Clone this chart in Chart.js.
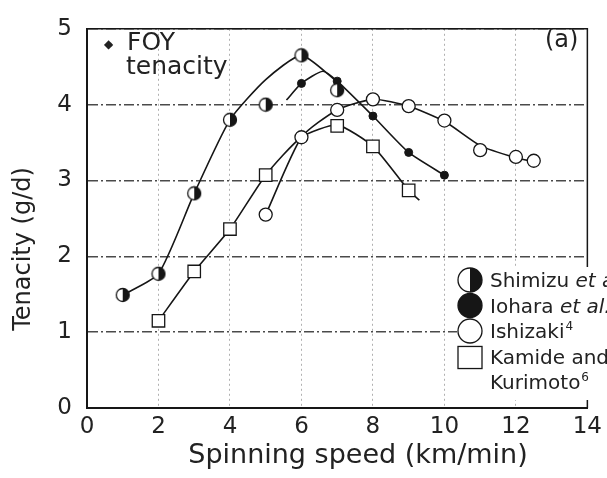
<!DOCTYPE html>
<html lang="en">
<head>
  <meta charset="UTF-8" />
  <title>FOY tenacity vs spinning speed</title>
  <script src="https://cdn.jsdelivr.net/npm/chart.js"></script>
  <style>
    body {
      margin: 0;
      background: #fff;
    }

    #wrap {
      width: 607px;
      height: 478px;
    }
  </style>
</head>
<body>
  <div id="wrap"><canvas id="chart" width="607" height="478"></canvas></div>

  <script>
    // tick labels
    const xTicks = [0, 2, 4, 6, 8, 10, 12, 14];
    const yTicks = [0, 1, 2, 3, 4, 5];

    // measured points (speed km/min, tenacity g/d)
    const shimizuSpeed = [1, 2, 3, 4, 5, 6, 7];
    const shimizuTenacity = [1.49, 1.77, 2.83, 3.8, 4.0, 4.65, 4.19];

    const ioharaSpeed = [6, 7, 8, 9, 10];
    const ioharaTenacity = [4.28, 4.31, 3.85, 3.37, 3.07];

    const ishizakiSpeed = [5, 6, 7, 8, 9, 10, 11, 12, 12.5];
    const ishizakiTenacity = [2.55, 3.57, 3.93, 4.07, 3.98, 3.79, 3.4, 3.31, 3.26];

    const kamideSpeed = [2, 3, 4, 5, 7, 8, 9];
    const kamideTenacity = [1.15, 1.8, 2.36, 3.07, 3.72, 3.45, 2.87];

    // hand drawn fit curves
    const shimizuCurveX = [1, 2, 3, 4, 5, 6, 7];
    const shimizuCurveY = [1.49, 1.77, 2.83, 3.8, 4.33, 4.65, 4.3];

    const ioharaCurveX = [5.58, 6, 6.6, 7, 8, 9, 10];
    const ioharaCurveY = [4.06, 4.28, 4.44, 4.31, 3.85, 3.37, 3.07];

    const ishizakiCurveX = [5, 6, 7, 8, 9, 10, 11, 12, 12.5];
    const ishizakiCurveY = [2.55, 3.57, 3.93, 4.07, 3.98, 3.78, 3.46, 3.3, 3.25];

    const kamideCurveX = [2, 3, 4, 5, 6, 7, 8, 9, 9.3];
    const kamideCurveY = [1.15, 1.8, 2.36, 3.07, 3.57, 3.73, 3.45, 2.87, 2.74];

    const ink = '#161616';
    const textInk = '#222';
    const font = 'DejaVu Sans';

    Chart.defaults.font.family = font;
    Chart.defaults.color = textInk;

    const pairs = (xs, ys) => xs.map((x, i) => ({ x: x, y: ys[i] }));

    function halfDot(r) {
      const s = Math.ceil(r * 2 + 3);
      const c = document.createElement('canvas');
      c.width = s;
      c.height = s;
      drawMarker(c.getContext('2d'), 'half', s / 2, s / 2, r);
      return c;
    }

    function drawMarker(g, kind, x, y, r) {
      g.save();
      g.lineWidth = 1.3;
      g.strokeStyle = ink;
      if (kind === 'square') {
        g.fillStyle = '#fff';
        g.fillRect(x - r, y - r * 0.92, r * 2, r * 1.84);
        g.strokeRect(x - r, y - r * 0.92, r * 2, r * 1.84);
      } else {
        g.fillStyle = kind === 'filled' ? ink : '#fff';
        g.beginPath();
        g.arc(x, y, r, 0, Math.PI * 2);
        g.fill();
        if (kind === 'half') {
          g.fillStyle = ink;
          g.beginPath();
          g.arc(x, y, r, -Math.PI / 2, Math.PI / 2);
          g.closePath();
          g.fill();
        }
        g.beginPath();
        g.arc(x, y, r, 0, Math.PI * 2);
        g.stroke();
      }
      g.restore();
    }

    function curve(xs, ys) {
      return {
        data: pairs(xs, ys),
        showLine: true,
        pointRadius: 0,
        borderColor: ink,
        borderWidth: 1.6,
        tension: 0.2,
        order: 2
      };
    }

    // legend rows: [marker, plain text, italic text, superscript]
    const legendRows = [
      ['half', 'Shimizu ', 'et al.', '3'],
      ['filled', 'Iohara ', 'et al.', '5'],
      ['open', 'Ishizaki', '', '4'],
      ['square', 'Kamide and', '', '']
    ];

    const extras = {
      id: 'extras',
      afterDraw(chart) {
        const { ctx, chartArea: a } = chart;
        ctx.save();

        // top and right frame
        ctx.strokeStyle = ink;
        ctx.lineWidth = 1.5;
        ctx.beginPath();
        ctx.moveTo(a.left, a.top);
        ctx.lineTo(a.right, a.top);
        ctx.lineTo(a.right, a.bottom);
        ctx.stroke();

        // axis titles
        ctx.fillStyle = textInk;
        ctx.textAlign = 'center';
        ctx.textBaseline = 'alphabetic';
        ctx.font = '27px "' + font + '"';
        ctx.fillText('Spinning speed (km/min)', 358, 463);
        ctx.save();
        ctx.translate(30, 249);
        ctx.rotate(-Math.PI / 2);
        ctx.font = '24px "' + font + '"';
        ctx.fillText('Tenacity (g/d)', 0, 0);
        ctx.restore();

        // panel notes
        ctx.textAlign = 'left';
        ctx.font = '12px "' + font + '"';
        ctx.fillText('\u25C6', 104, 48);
        ctx.font = '25px "' + font + '"';
        ctx.fillText('FOY', 127, 50);
        ctx.fillText('tenacity', 126, 74);
        ctx.font = '24px "' + font + '"';
        ctx.fillText('(a)', 545, 47);

        // legend
        ctx.fillStyle = '#fff';
        ctx.fillRect(457, 267, 150, 133);
        legendRows.forEach((row, i) => {
          const cy = 280 + i * 25.5;
          drawMarker(ctx, row[0], 470, cy + (row[0] === 'square' ? 1 : 0), 12);
          let tx = 490;
          const base = cy + 7;
          ctx.fillStyle = textInk;
          ctx.font = '20px "' + font + '"';
          ctx.fillText(row[1], tx, base);
          tx += ctx.measureText(row[1]).width;
          if (row[2]) {
            ctx.font = 'italic 20px "' + font + '"';
            ctx.fillText(row[2], tx, base);
            tx += ctx.measureText(row[2]).width;
          }
          if (row[3]) {
            ctx.font = '12px "' + font + '"';
            ctx.fillText(row[3], tx + 1, base - 8);
          }
        });
        ctx.font = '20px "' + font + '"';
        ctx.fillText('Kurimoto', 490, 389);
        const kw = ctx.measureText('Kurimoto').width;
        ctx.font = '12px "' + font + '"';
        ctx.fillText('6', 491 + kw, 381);

        ctx.restore();
      }
    };

    new Chart(document.getElementById('chart').getContext('2d'), {
      type: 'scatter',
      data: {
        datasets: [
          {
            label: 'Shimizu et al.',
            data: pairs(shimizuSpeed, shimizuTenacity),
            pointStyle: halfDot(6.5),
            pointRadius: 7,
            order: 0
          },
          {
            label: 'Iohara et al.',
            data: pairs(ioharaSpeed, ioharaTenacity),
            pointStyle: 'circle',
            pointRadius: 4,
            backgroundColor: ink,
            borderColor: ink,
            borderWidth: 1,
            order: 0
          },
          {
            label: 'Ishizaki',
            data: pairs(ishizakiSpeed, ishizakiTenacity),
            pointStyle: 'circle',
            pointRadius: 6.5,
            backgroundColor: '#fff',
            borderColor: ink,
            borderWidth: 1.3,
            order: 0
          },
          {
            label: 'Kamide and Kurimoto',
            data: pairs(kamideSpeed, kamideTenacity),
            pointStyle: 'rect',
            pointRadius: 8.8,
            backgroundColor: '#fff',
            borderColor: ink,
            borderWidth: 1.3,
            order: 0
          },
          curve(shimizuCurveX, shimizuCurveY),
          curve(ioharaCurveX, ioharaCurveY),
          curve(ishizakiCurveX, ishizakiCurveY),
          curve(kamideCurveX, kamideCurveY)
        ]
      },
      options: {
        responsive: false,
        animation: false,
        layout: {
          padding: { left: 0, right: 17, top: 17, bottom: 0 }
        },
        plugins: {
          legend: { display: false },
          tooltip: { enabled: false }
        },
        scales: {
          x: {
            type: 'linear',
            min: 0,
            max: 14,
            afterBuildTicks: (s) => { s.ticks = xTicks.map((v) => ({ value: v })); },
            afterFit: (s) => { s.height = 70; },
            ticks: { padding: 5, font: { size: 23 }, color: textInk },
            grid: { color: '#b0b0b0', lineWidth: 1, drawTicks: false },
            border: { display: true, color: ink, width: 2, dash: [2, 3] }
          },
          y: {
            min: 0,
            max: 5,
            afterBuildTicks: (s) => { s.ticks = yTicks.map((v) => ({ value: v })); },
            afterFit: (s) => { s.width = 87; },
            ticks: { padding: 15, font: { size: 23 }, color: textInk },
            grid: { color: '#4a4a4a', lineWidth: 1.4, drawTicks: false },
            border: { display: true, color: ink, width: 2, dash: [10, 3, 2, 3] }
          }
        }
      },
      plugins: [extras]
    });
  </script>
</body>
</html>
